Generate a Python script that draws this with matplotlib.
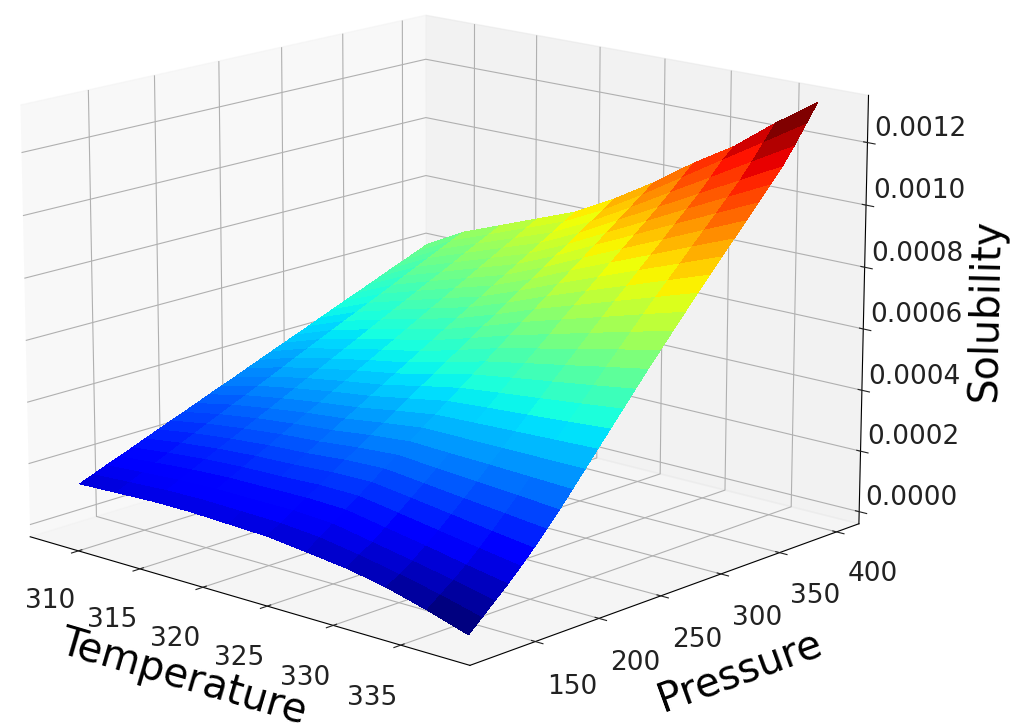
import numpy as np
import matplotlib
matplotlib.use("Agg")
import matplotlib.pyplot as plt
from mpl_toolkits.mplot3d import Axes3D

# values, solubility in units of 1e-4
temperature = [308, 311, 314, 317, 320, 323, 326, 329, 332, 335, 338]
pressure = [120, 130, 140, 150, 160, 170, 180, 190, 200, 210, 220, 230, 240, 250, 260,
            270, 280, 290, 300, 310, 320, 330, 340, 350, 360, 370, 380, 390, 400]
solubility = [
    [1.3, 1.47, 1.64, 1.8, 1.97, 2.14, 2.31, 2.48, 2.64, 2.81, 2.98, 3.15, 3.31, 3.48, 3.65, 3.82, 3.99, 4.15, 4.32, 4.49, 4.66, 4.83, 4.99, 5.16, 5.33, 5.5, 5.66, 5.83, 6.0],
    [1.35, 1.54, 1.73, 1.92, 2.11, 2.31, 2.5, 2.69, 2.88, 3.07, 3.26, 3.45, 3.64, 3.83, 4.03, 4.22, 4.41, 4.6, 4.79, 4.98, 5.17, 5.36, 5.55, 5.75, 5.94, 6.13, 6.32, 6.51, 6.7],
    [1.4, 1.61, 1.81, 2.02, 2.23, 2.44, 2.64, 2.85, 3.06, 3.26, 3.47, 3.68, 3.89, 4.09, 4.3, 4.51, 4.71, 4.92, 5.13, 5.34, 5.54, 5.75, 5.96, 6.16, 6.37, 6.58, 6.79, 6.99, 7.2],
    [1.4, 1.63, 1.85, 2.08, 2.3, 2.53, 2.75, 2.98, 3.2, 3.43, 3.65, 3.88, 4.1, 4.33, 4.55, 4.78, 5.0, 5.23, 5.45, 5.68, 5.9, 6.13, 6.35, 6.58, 6.8, 7.03, 7.25, 7.48, 7.7],
    [1.35, 1.6, 1.84, 2.09, 2.33, 2.58, 2.82, 3.07, 3.31, 3.56, 3.8, 4.05, 4.29, 4.54, 4.78, 5.03, 5.27, 5.52, 5.76, 6.01, 6.25, 6.5, 6.74, 6.99, 7.23, 7.48, 7.72, 7.97, 8.2],
    [1.3, 1.57, 1.84, 2.11, 2.39, 2.66, 2.93, 3.2, 3.47, 3.74, 4.01, 4.28, 4.56, 4.83, 5.1, 5.37, 5.64, 5.91, 6.18, 6.45, 6.73, 7.0, 7.27, 7.54, 7.81, 8.08, 8.35, 8.62, 8.9],
    [1.15, 1.46, 1.76, 2.07, 2.37, 2.68, 2.98, 3.29, 3.59, 3.9, 4.2, 4.51, 4.81, 5.12, 5.42, 5.73, 6.03, 6.34, 6.64, 6.95, 7.25, 7.56, 7.86, 8.17, 8.47, 8.78, 9.08, 9.39, 9.7],
    [1.0, 1.25, 1.52, 1.84, 2.17, 2.51, 2.84, 3.19, 3.54, 3.9, 4.25, 4.61, 4.96, 5.32, 5.67, 6.02, 6.36, 6.72, 7.06, 7.41, 7.75, 8.1, 8.44, 8.78, 9.12, 9.47, 9.84, 10.22, 10.6],
    [0.75, 1.0, 1.28, 1.62, 1.96, 2.33, 2.7, 3.09, 3.5, 3.9, 4.3, 4.7, 5.1, 5.51, 5.91, 6.3, 6.7, 7.09, 7.48, 7.86, 8.25, 8.63, 9.01, 9.4, 9.78, 10.16, 10.59, 11.05, 11.4],
    [0.4, 0.72, 1.03, 1.37, 1.75, 2.15, 2.57, 3.0, 3.45, 3.9, 4.35, 4.8, 5.25, 5.7, 6.16, 6.59, 7.03, 7.47, 7.9, 8.32, 8.74, 9.17, 9.59, 10.01, 10.43, 10.86, 11.35, 11.87, 12.4],
    [0.0, 0.38, 0.76, 1.14, 1.55, 1.98, 2.43, 2.9, 3.4, 3.9, 4.4, 4.9, 5.4, 5.9, 6.4, 6.88, 7.36, 7.84, 8.32, 8.78, 9.24, 9.7, 10.16, 10.62, 11.08, 11.55, 12.1, 12.7, 13.3],
]
t_ticks = [310, 315, 320, 325, 330, 335]
p_ticks = [150, 200, 250, 300, 350, 400]
s_ticks = [0.0, 0.0002, 0.0004, 0.0006, 0.0008, 0.0010, 0.0012]

T, P = np.meshgrid(temperature, pressure, indexing="ij")
S = np.array(solubility) * 1e-4

fig = plt.figure(figsize=(10.16, 7.28), dpi=100)
ax = fig.add_axes([-0.161, -0.087, 1.176, 1.267], projection="3d")
ax.view_init(elev=15, azim=-48)
ax.plot_surface(T, P, S, cmap="jet", linewidth=0, antialiased=False, rstride=1, cstride=1)

ax.set_xlim(306, 340)
ax.set_ylim(100, 420)
ax.set_zlim(-0.00004, 0.00135)
ax.set_xticks(t_ticks)
ax.set_yticks(p_ticks)
ax.set_yticklabels([str(v) for v in p_ticks], va="center")
ax.set_zticks(s_ticks)
ax.set_zticklabels(["%.4f" % v for v in s_ticks], va="bottom")
ax.tick_params(labelsize=19, colors="#222222")
ax.tick_params(axis="x", pad=15)
ax.tick_params(axis="y", pad=19)
ax.tick_params(axis="z", pad=14)
ax.set_xlabel("Temperature", fontsize=29, labelpad=26)
ax.set_ylabel("Pressure", fontsize=29, labelpad=28)
ax.set_zlabel("Solubility", fontsize=28.5, labelpad=30)

fig.savefig("out.png", dpi=100)
